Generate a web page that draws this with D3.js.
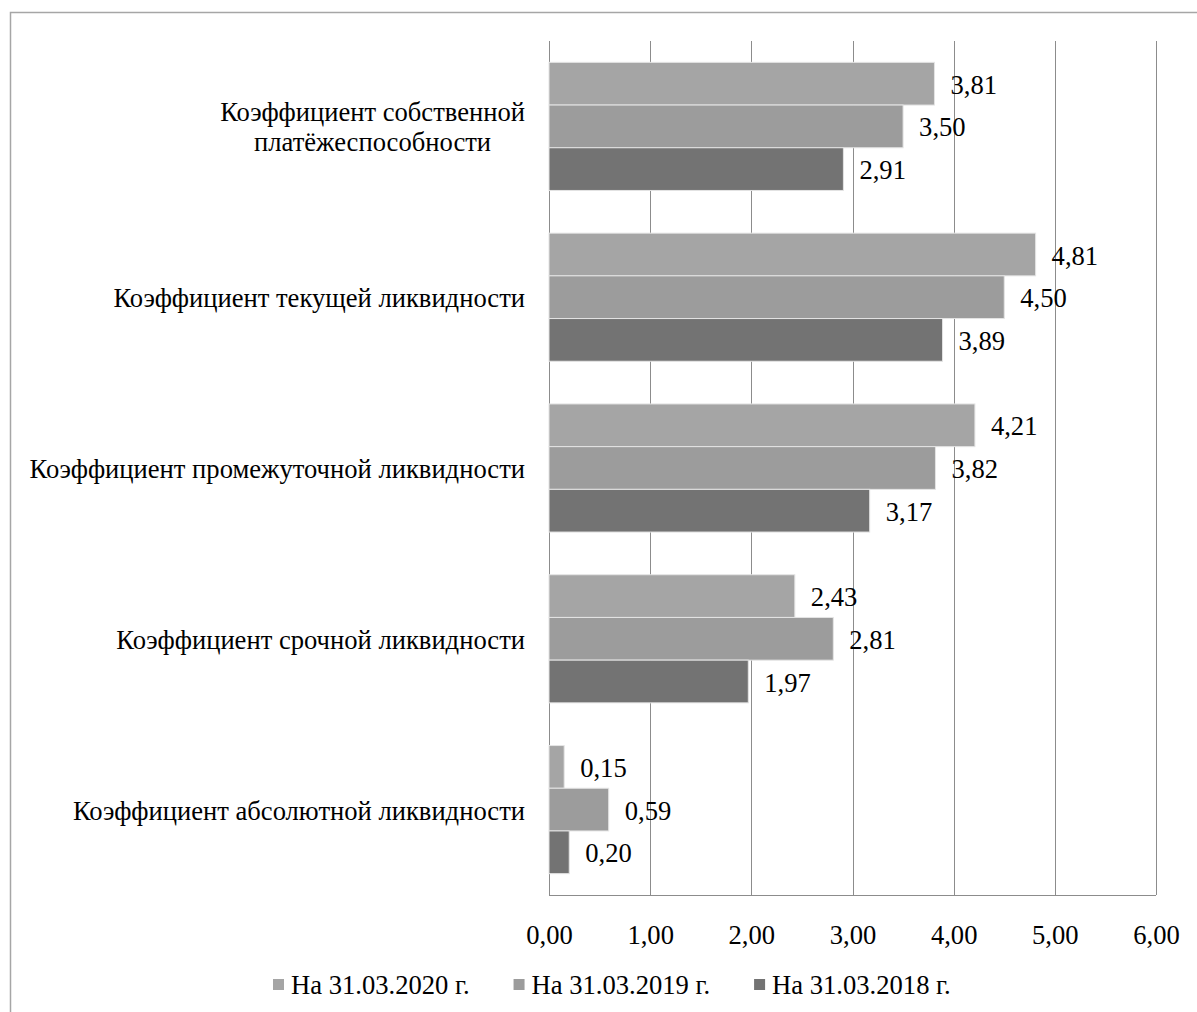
<!DOCTYPE html>
<html>
<head>
<meta charset="utf-8">
<script src="https://cdn.jsdelivr.net/npm/d3@7"></script>
</head>
<body style="margin:0">
<svg id="fig" width="1197" height="1012"></svg>
<script>
// Liquidity ratios by reporting date
const categories = [
  ["Коэффициент собственной", "платёжеспособности"],
  ["Коэффициент текущей ликвидности"],
  ["Коэффициент промежуточной ликвидности"],
  ["Коэффициент срочной ликвидности"],
  ["Коэффициент абсолютной ликвидности"]
];
const seriesNames = ["На 31.03.2020 г.", "На 31.03.2019 г.", "На 31.03.2018 г."];
const values2020 = [3.81, 4.81, 4.21, 2.43, 0.15];
const values2019 = [3.50, 4.50, 3.82, 2.81, 0.59];
const values2018 = [2.91, 3.89, 3.17, 1.97, 0.20];
const xTicks = [0, 1, 2, 3, 4, 5, 6];
const seriesColors = ["#a5a5a5", "#9c9c9c", "#737373"];

const FONT = "'Liberation Serif', 'Times New Roman', Tinos, serif";
const FS = 26.6;
const series = [values2020, values2019, values2018];
const fmt = v => d3.format(".2f")(v).replace(".", ",");

const styleText = sel => sel
  .style("font-family", FONT, "important")
  .style("font-size", FS + "px", "important")
  .attr("fill", "#000");

const svg = d3.select("#fig");
const plot = { left: 549, right: 1156, top: 41, bottom: 895 };

// outer chart frame (runs past the right and bottom edges)
svg.append("path")
  .attr("d", "M10.5,1012 L10.5,12.5 L1197,12.5")
  .attr("fill", "none").attr("stroke", "#a6a6a6").attr("stroke-width", 1.5);

const x = d3.scaleLinear().domain([0, 6]).range([plot.left, plot.right]);
const y = d3.scaleBand().domain(d3.range(categories.length))
  .range([plot.top, plot.bottom]).paddingInner(0.25).paddingOuter(0.125);
const ySub = d3.scaleBand().domain(d3.range(series.length)).range([0, y.bandwidth()]);

// vertical gridlines
svg.append("g").selectAll("line").data(xTicks).join("line")
  .attr("x1", d => Math.round(x(d)) + 0.5).attr("x2", d => Math.round(x(d)) + 0.5)
  .attr("y1", plot.top).attr("y2", plot.bottom)
  .attr("stroke", "#8c8c8c").attr("stroke-width", 1);

// bottom axis with tick labels
const axis = svg.append("g").attr("transform", `translate(0,${plot.bottom + 0.5})`)
  .call(d3.axisBottom(x).tickValues(xTicks).tickFormat(fmt).tickSize(0));
axis.attr("font-family", null).attr("font-size", null);
axis.select(".domain").attr("stroke", "#8c8c8c").attr("d", `M${plot.left},0H${plot.right}`);
axis.selectAll("text").attr("dy", null).attr("y", 48).call(styleText);

// bars and value labels
const groups = svg.append("g").selectAll("g").data(series).join("g");
groups.each(function (vals, si) {
  const g = d3.select(this);
  g.selectAll("rect").data(vals).join("rect")
    .attr("x", x(0))
    .attr("y", (d, ci) => y(ci) + ySub(si))
    .attr("width", d => x(d) - x(0))
    .attr("height", ySub.bandwidth())
    .attr("fill", seriesColors[si])
    .attr("stroke", "#e4e4e4").attr("stroke-width", 1);
  g.selectAll("text").data(vals).join("text")
    .attr("x", d => x(d) + 16)
    .attr("y", (d, ci) => y(ci) + ySub(si) + ySub.bandwidth() / 2 + 10)
    .call(styleText)
    .text(fmt);
});

// category labels: right-aligned block, lines centred within it
categories.forEach((lines, ci) => {
  const cy = y(ci) + y.bandwidth() / 2;
  const lh = 30;
  lines.forEach((ln, li) => {
    svg.append("text")
      .attr("x", 525)
      .attr("y", cy + (li - (lines.length - 1) / 2) * lh + 10)
      .attr("class", "cat cat" + ci)
      .call(styleText)
      .text(ln);
  });
  const nodes = svg.selectAll(".cat" + ci).nodes();
  const widths = nodes.map(n => n.getComputedTextLength());
  const maxW = d3.max(widths);
  nodes.forEach((n, i) => d3.select(n).attr("x", 525 - maxW + (maxW - widths[i]) / 2));
});

// legend
let lx = 273;
seriesNames.forEach((name, i) => {
  svg.append("rect").attr("x", lx).attr("y", 979).attr("width", 11).attr("height", 11)
    .attr("fill", seriesColors[i]);
  const t = svg.append("text").attr("x", lx + 18).attr("y", 994).call(styleText).text(name);
  lx += 18 + t.node().getComputedTextLength() + 44;
});
</script>
</body>
</html>
